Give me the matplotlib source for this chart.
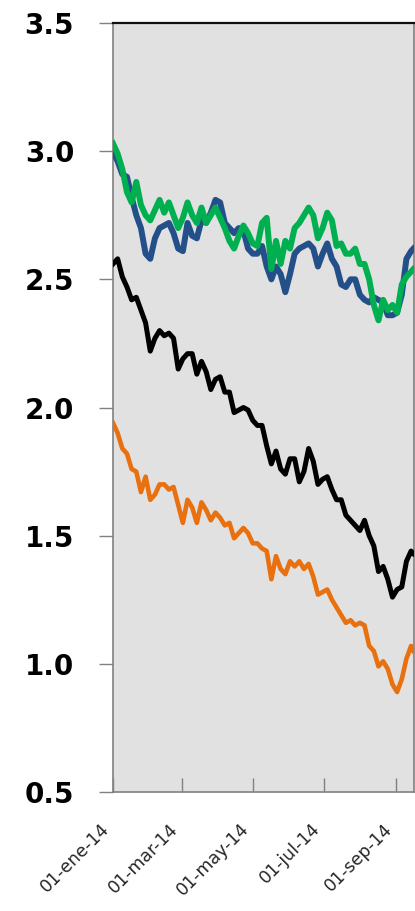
import matplotlib
matplotlib.use("Agg")
import matplotlib.pyplot as plt
import matplotlib.dates as mdates
import pandas as pd

# x grid: every 4 days from 1 Jan 2014, plus a final point
dates = list(pd.date_range("2014-01-01", periods=65, freq="4D")) + [pd.Timestamp("2014-09-16")]

blue = [3.00, 2.96, 2.91, 2.90, 2.82, 2.75, 2.70, 2.60, 2.58, 2.66, 2.70, 2.71, 2.72,
        2.68, 2.62, 2.61, 2.72, 2.67, 2.66, 2.73, 2.72, 2.76, 2.81, 2.80, 2.72, 2.70,
        2.68, 2.70, 2.69, 2.62, 2.60, 2.60, 2.63, 2.55, 2.50, 2.55, 2.52, 2.45, 2.52,
        2.60, 2.62, 2.63, 2.64, 2.62, 2.55, 2.60, 2.64, 2.58, 2.55, 2.48, 2.47, 2.50,
        2.50, 2.44, 2.42, 2.41, 2.43, 2.42, 2.41, 2.36, 2.36, 2.37, 2.44, 2.58, 2.61, 2.62]

green = [3.03, 2.99, 2.93, 2.84, 2.80, 2.88, 2.79, 2.75, 2.73, 2.77, 2.81, 2.76, 2.80,
         2.75, 2.70, 2.74, 2.80, 2.75, 2.72, 2.78, 2.72, 2.75, 2.78, 2.74, 2.70, 2.65,
         2.62, 2.67, 2.71, 2.68, 2.64, 2.63, 2.72, 2.74, 2.54, 2.65, 2.56, 2.65, 2.62,
         2.70, 2.72, 2.75, 2.78, 2.75, 2.66, 2.70, 2.76, 2.73, 2.63, 2.64, 2.60, 2.60,
         2.62, 2.56, 2.56, 2.50, 2.40, 2.34, 2.42, 2.38, 2.40, 2.37, 2.48, 2.51, 2.53, 2.54]

black = [2.56, 2.58, 2.51, 2.47, 2.42, 2.43, 2.38, 2.33, 2.22, 2.27, 2.30, 2.28, 2.29,
         2.27, 2.15, 2.19, 2.21, 2.21, 2.13, 2.18, 2.14, 2.07, 2.11, 2.12, 2.06, 2.06,
         1.98, 1.99, 2.00, 1.99, 1.95, 1.93, 1.93, 1.85, 1.78, 1.83, 1.76, 1.74, 1.80,
         1.80, 1.71, 1.75, 1.84, 1.79, 1.70, 1.72, 1.73, 1.68, 1.64, 1.64, 1.58, 1.56,
         1.54, 1.52, 1.56, 1.50, 1.46, 1.36, 1.38, 1.33, 1.26, 1.29, 1.30, 1.40, 1.44, 1.43]

orange = [1.94, 1.90, 1.84, 1.82, 1.76, 1.75, 1.67, 1.73, 1.64, 1.66, 1.70, 1.70, 1.68,
          1.69, 1.62, 1.55, 1.64, 1.61, 1.55, 1.63, 1.60, 1.56, 1.59, 1.57, 1.54, 1.55,
          1.49, 1.51, 1.53, 1.51, 1.47, 1.47, 1.45, 1.44, 1.33, 1.42, 1.37, 1.35, 1.40,
          1.38, 1.40, 1.37, 1.39, 1.34, 1.27, 1.28, 1.29, 1.25, 1.22, 1.19, 1.16, 1.17,
          1.15, 1.16, 1.15, 1.07, 1.05, 0.99, 1.01, 0.98, 0.92, 0.89, 0.94, 1.02, 1.07, 1.05]

x_ticks = ["2014-01-01", "2014-03-01", "2014-05-01", "2014-07-01", "2014-09-01"]
x_tick_labels = ["01-ene-14", "01-mar-14", "01-may-14", "01-jul-14", "01-sep-14"]
y_ticks = [0.5, 1.0, 1.5, 2.0, 2.5, 3.0, 3.5]

fig = plt.figure(figsize=(4.15, 9.11), dpi=100)
ax = fig.add_axes([113 / 415, 1 - 792 / 911, (414 - 113) / 415, (792 - 23) / 911])
ax.set_facecolor("#E1E1E1")

ax.plot(dates, blue, color="#24508A", lw=4.3, solid_joinstyle="round", zorder=3)
ax.plot(dates, green, color="#00B050", lw=4.3, solid_joinstyle="round", zorder=4)
ax.plot(dates, black, color="#000000", lw=3.6, solid_joinstyle="round", zorder=3)
ax.plot(dates, orange, color="#E8700F", lw=3.3, solid_joinstyle="round", zorder=3)

ax.set_xlim(pd.Timestamp("2014-01-01"), pd.Timestamp("2014-09-16 12:00"))
ax.set_ylim(0.5, 3.5)

ax.set_yticks(y_ticks)
ax.set_yticklabels([f"{v:.1f}" for v in y_ticks], fontsize=20, fontweight="bold",
                   family="DejaVu Sans")
ax.tick_params(axis="y", direction="out", length=10, width=1, color="#808080", pad=18)

ax.set_xticks([pd.Timestamp(d) for d in x_ticks])
ax.set_xticklabels(x_tick_labels, rotation=45, ha="right", fontsize=12.5, color="#262626")
ax.tick_params(axis="x", direction="in", length=10, width=1, color="#808080", pad=20)

for side in ["left", "bottom", "right"]:
    ax.spines[side].set_color("#808080")
    ax.spines[side].set_linewidth(1.2)
ax.spines["top"].set_color("#111111")
ax.spines["top"].set_linewidth(1.6)

fig.savefig("out.png", dpi=100, facecolor="white")
